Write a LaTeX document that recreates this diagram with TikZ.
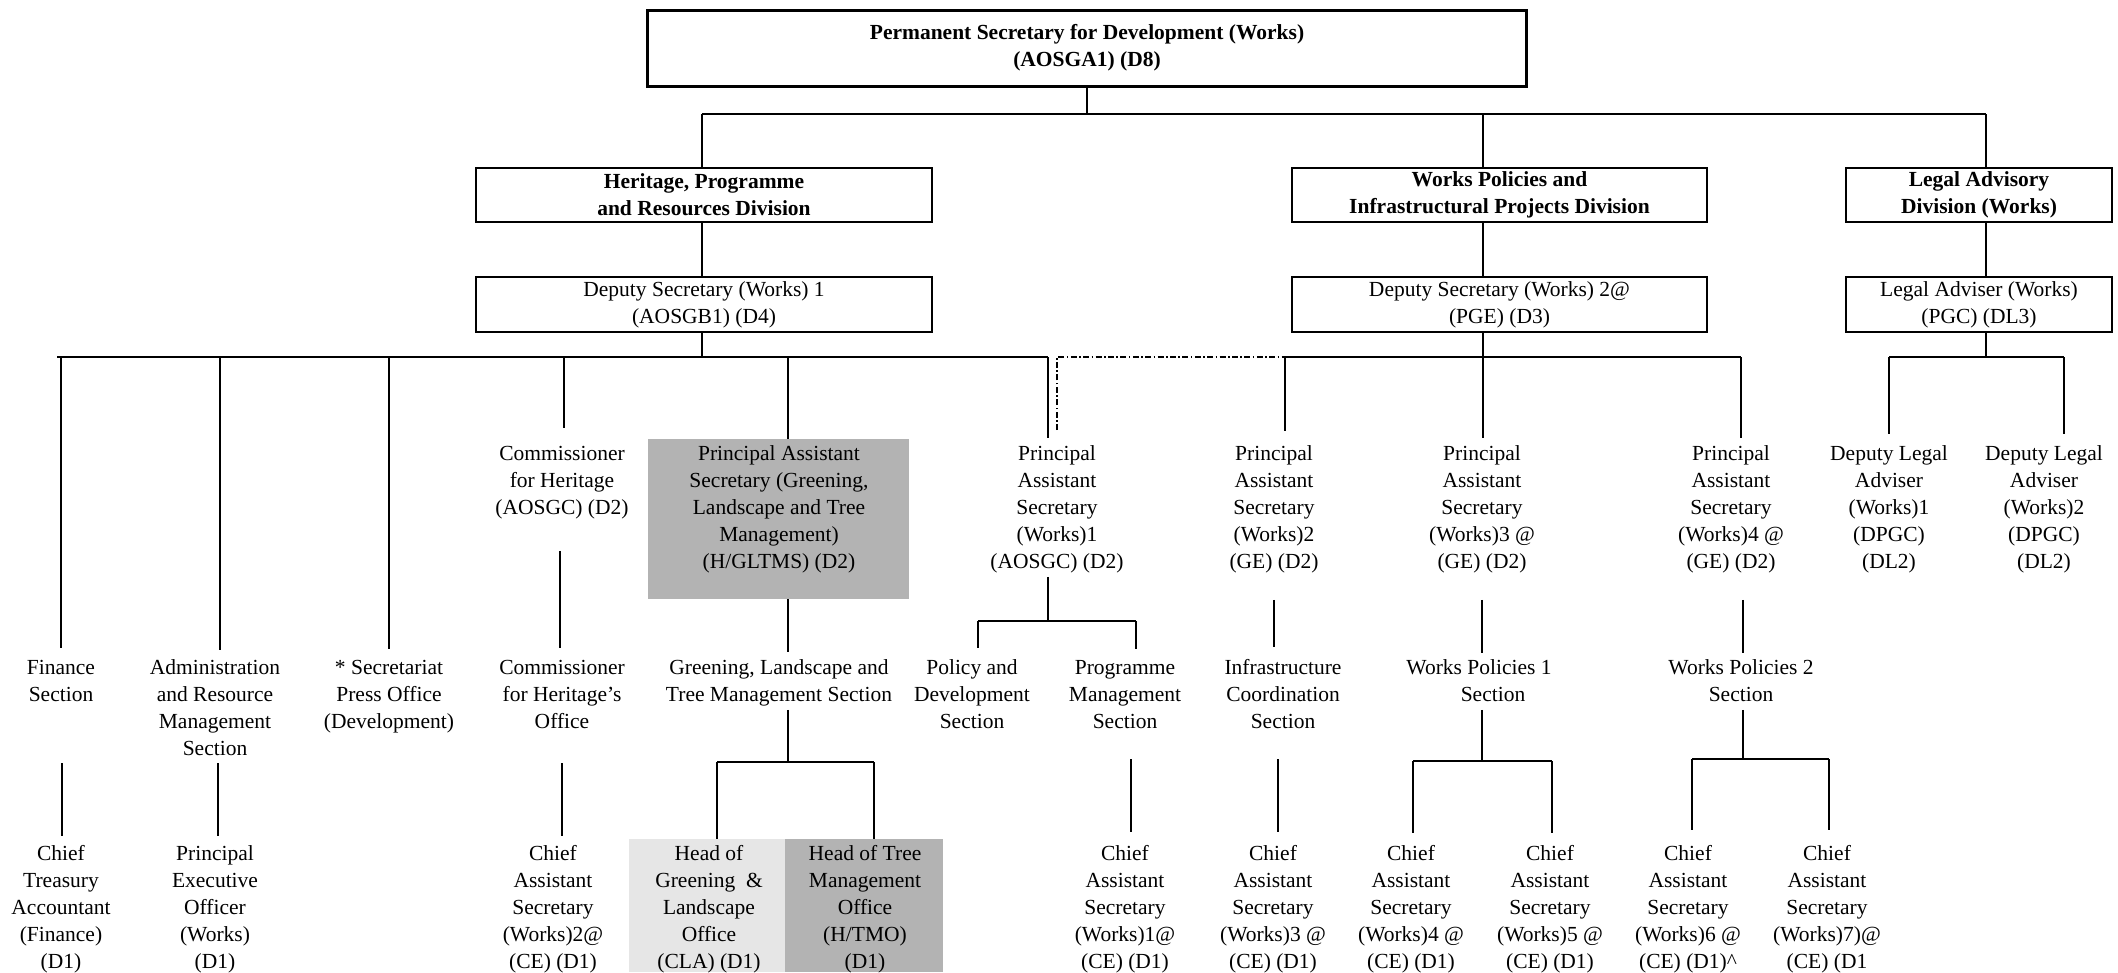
\documentclass[tikz,border=0pt]{standalone}
\usepackage{fontspec}
\setmainfont{Liberation Serif}
\usetikzlibrary{calc}
\definecolor{gDark}{HTML}{B3B3B3}
\definecolor{gLight}{HTML}{E6E6E6}
\newcommand\orgfont{\fontsize{10.75bp}{13.5bp}\selectfont}
\begin{document}
\begin{tikzpicture}[x=0.5bp,y=-0.5bp,
 txt/.style={align=center,inner sep=0pt,anchor=north,font=\orgfont},
 obox/.style={draw,line width=1.2bp,inner sep=0pt,align=center,font=\orgfont\bfseries},
 nbox/.style={draw,line width=1.2bp,inner sep=0pt,align=center,font=\orgfont},
 shade/.style={inner sep=0pt,draw=none},
 conn/.style={line width=1bp},
 bar/.style={line width=1.4bp},
 dd/.style={line width=0.7bp,dash pattern=on 3bp off 1.2bp on 0.8bp off 1.2bp},
]
\useasboundingbox (0,0) rectangle (2118,972);

% ---- boxes
\node[obox,line width=1.5bp,minimum width=439bp,minimum height=38bp] (ps) at (1087,48) {Permanent Secretary for Development (Works)\\(AOSGA1) (D8)};
\node[obox,minimum width=228bp,minimum height=27bp] (hpr) at (704,195) {Heritage, Programme\\and Resources Division};
\node[obox,minimum width=207.5bp,minimum height=27bp] (wpi) at (1499.5,195) {Works Policies and\\Infrastructural Projects Division};
\node[obox,minimum width=133bp,minimum height=27bp] (lad) at (1979,195) {Legal Advisory\\Division (Works)};
\node[nbox,minimum width=228bp,minimum height=27.5bp] (ds1) at (704,304.5) {Deputy Secretary (Works) 1\\(AOSGB1) (D4)};
\node[nbox,minimum width=207.5bp,minimum height=27.5bp] (ds2) at (1499.5,304.5) {Deputy Secretary (Works) 2@\\(PGE) (D3)};
\node[nbox,minimum width=133bp,minimum height=27.5bp] (la) at (1979,304.5) {Legal Adviser (Works)\\(PGC) (DL3)};

\node[shade,fill=gDark,minimum width=130.5bp,minimum height=80bp] (glbox) at (778.5,519) {};
\node[shade,fill=gLight,minimum width=78bp,minimum height=66.5bp] (hglbox) at (707,905.5) {};
\node[shade,fill=gDark,minimum width=79bp,minimum height=66.5bp] (htmbox) at (864,905.5) {};

% ---- top row
\node[txt] (comm) at (562,441) {\strut Commissioner\\for Heritage\\(AOSGC) (D2)\strut};
\node[txt] (gl) at (779,441) {\strut Principal Assistant\\Secretary (Greening,\\Landscape and Tree\\Management)\\(H/GLTMS) (D2)\strut};
\node[txt] (pas1) at (1057,441) {\strut Principal\\Assistant\\Secretary\\(Works)1\\(AOSGC) (D2)\strut};
\node[txt] (pas2) at (1274,441) {\strut Principal\\Assistant\\Secretary\\(Works)2\\(GE) (D2)\strut};
\node[txt] (pas3) at (1482,441) {\strut Principal\\Assistant\\Secretary\\(Works)3 @\\(GE) (D2)\strut};
\node[txt] (pas4) at (1731,441) {\strut Principal\\Assistant\\Secretary\\(Works)4 @\\(GE) (D2)\strut};
\node[txt] (dla1) at (1889,441) {\strut Deputy Legal\\Adviser\\(Works)1\\(DPGC)\\(DL2)\strut};
\node[txt] (dla2) at (2044,441) {\strut Deputy Legal\\Adviser\\(Works)2\\(DPGC)\\(DL2)\strut};

% ---- section row
\node[txt] (fin) at (61,655) {\strut Finance\\Section\strut};
\node[txt] (adm) at (215,655) {\strut Administration\\and Resource\\Management\\Section\strut};
\node[txt] (sec) at (389,655) {\strut * Secretariat\\Press Office\\(Development)\strut};
\node[txt] (commo) at (562,655) {\strut Commissioner\\for Heritage’s\\Office\strut};
\node[txt] (gls) at (779,655) {\strut Greening, Landscape and\\Tree Management Section\strut};
\node[txt] (pol) at (972,655) {\strut Policy and\\Development\\Section\strut};
\node[txt] (prog) at (1125,655) {\strut Programme\\Management\\Section\strut};
\node[txt] (infra) at (1283,655) {\strut Infrastructure\\Coordination\\Section\strut};
\node[txt] (wp1) at (1479,655) {\strut Works Policies 1\\\hspace*{14bp}Section\strut};
\node[txt] (wp2) at (1741,655) {\strut Works Policies 2\\Section\strut};

% ---- bottom row
\node[txt] (cta) at (61,841) {\strut Chief\\Treasury\\Accountant\\(Finance)\\(D1)\strut};
\node[txt] (peo) at (215,841) {\strut Principal\\Executive\\Officer\\(Works)\\(D1)\strut};
\node[txt] (cas2) at (553,841) {\strut Chief\\Assistant\\Secretary\\(Works)2@\\(CE) (D1)\strut};
\node[txt] (hgl) at (709,841) {\strut Head of\\Greening~~\&\\Landscape\\Office\\(CLA) (D1)\strut};
\node[txt] (htm) at (865,841) {\strut Head of Tree\\Management\\Office\\(H/TMO)\\(D1)\strut};
\node[txt] (cas1) at (1125,841) {\strut Chief\\Assistant\\Secretary\\(Works)1@\\(CE) (D1)\strut};
\node[txt] (cas3) at (1273,841) {\strut Chief\\Assistant\\Secretary\\(Works)3 @\\(CE) (D1)\strut};
\node[txt] (cas4) at (1411,841) {\strut Chief\\Assistant\\Secretary\\(Works)4 @\\(CE) (D1)\strut};
\node[txt] (cas5) at (1550,841) {\strut Chief\\Assistant\\Secretary\\(Works)5 @\\(CE) (D1)\strut};
\node[txt] (cas6) at (1688,841) {\strut Chief\\Assistant\\Secretary\\(Works)6 @\\(CE) (D1)\textasciicircum\strut};
\node[txt] (cas7) at (1827,841) {\strut Chief\\Assistant\\Secretary\\(Works)7)@\\(CE) (D1\strut};

% ---- helper coordinates
\coordinate (b0) at (0,114);
\coordinate (b1) at (0,357);
\coordinate (b1L) at (57,357);
\coordinate (b2) at (0,621);
\coordinate (b3) at (0,762);
\coordinate (r3) at (0,763);
\coordinate (r3a) at (0,759);
\coordinate (bw1) at (0,761);
\coordinate (bw2) at (0,759);
\coordinate (hx) at (702,0);
\coordinate (wx) at (1483,0);
\coordinate (lx) at (1986,0);

\path ([yshift=3.5bp]fin.north) coordinate (finT);
\path ([xshift=2.5bp,yshift=2.5bp]adm.north) coordinate (admT);
\path ([yshift=3bp]sec.north) coordinate (secT);
\path ([xshift=1bp,yshift=6.5bp]comm.north) coordinate (commT);
\path ([xshift=4.75bp]glbox.north) coordinate (glT);
\path ([xshift=-4.5bp,yshift=1.5bp]pas1.north) coordinate (pas1T);
\path ([yshift=5.5bp]pas1.north) coordinate (pas1D);
\path ([xshift=5.5bp,yshift=5bp]pas2.north) coordinate (pas2T);
\path ([xshift=0.5bp,yshift=1.5bp]pas3.north) coordinate (pas3T);
\path ([xshift=5bp,yshift=1.5bp]pas4.north) coordinate (pas4T);
\path ([yshift=3.5bp]dla1.north) coordinate (dla1T);
\path ([xshift=10bp,yshift=3.5bp]dla2.north) coordinate (dla2T);

\path ([xshift=-1bp,yshift=3.5bp]commo.north) coordinate (commoT);
\path ([yshift=-14bp]comm.south) coordinate (commB);
\path ([xshift=4.5bp,yshift=1.5bp]gls.north) coordinate (glsT);
\path ([xshift=3bp,yshift=3.5bp]pol.north) coordinate (polT);
\path ([xshift=5.5bp,yshift=3bp]prog.north) coordinate (progT);
\path ([xshift=-4.5bp,yshift=4bp]infra.north) coordinate (infraT);
\path ([yshift=-11.5bp]pas2.south) coordinate (pasB);
\path ([xshift=1.5bp,yshift=1bp]wp1.north) coordinate (wp1T);
\path ([xshift=1bp,yshift=1bp]wp2.north) coordinate (wp2T);

\path ([xshift=0.5bp,yshift=2.5bp]cta.north) coordinate (ctaT);
\path ([xshift=1.5bp,yshift=2.5bp]peo.north) coordinate (peoT);
\path ([xshift=4.5bp,yshift=2.5bp]cas2.north) coordinate (cas2T);
\path ([xshift=5bp]hglbox.north) coordinate (hglT);
\path ([xshift=5bp]htmbox.north) coordinate (htmT);
\path ([xshift=3bp,yshift=4.5bp]cas1.north) coordinate (cas1T);
\path ([xshift=2.5bp,yshift=4.5bp]cas3.north) coordinate (cas3T);
\path ([xshift=1bp,yshift=4bp]cas4.north) coordinate (cas4T);
\path ([xshift=1bp,yshift=4bp]cas5.north) coordinate (cas5T);
\path ([xshift=2bp,yshift=5.5bp]cas6.north) coordinate (cas6T);
\path ([xshift=1bp,yshift=5.5bp]cas7.north) coordinate (cas7T);

% ---- top connectors
\draw[conn] (ps.south) -- (ps.south |- b0);
\draw[bar] (hx |- b0) -- (lx |- b0);
\draw[conn] (hx |- b0) -- (hx |- hpr.north);
\draw[conn] (wx |- b0) -- (wx |- wpi.north);
\draw[conn] (lx |- b0) -- (lx |- lad.north);
\draw[conn] (hx |- hpr.south) -- (hx |- ds1.north);
\draw[conn] (wx |- wpi.south) -- (wx |- ds2.north);
\draw[conn] (lx |- lad.south) -- (lx |- la.north);
\draw[conn] (hx |- ds1.south) -- (hx |- b1);
\draw[conn] (wx |- ds2.south) -- (wx |- pas3T);
\draw[conn] (lx |- la.south) -- (lx |- b1);

% ---- first tier bars
\draw[bar] (b1L) -- (pas1T |- b1);
\draw[conn] (finT |- b1) -- (finT);
\draw[conn] (admT |- b1) -- (admT);
\draw[conn] (secT |- b1) -- (secT);
\draw[conn] (commT |- b1) -- (commT);
\draw[conn] (glT |- b1) -- (glT);
\draw[conn] (pas1T |- b1) -- (pas1T);
\draw[dd] (pas1D) -- (pas1D |- b1) -- (pas2T |- b1);
\draw[bar] (pas2T |- b1) -- (pas4T |- b1);
\draw[conn] (pas2T |- b1) -- (pas2T);
\draw[conn] (pas4T |- b1) -- (pas4T);
\draw[bar] (dla1T |- b1) -- (dla2T |- b1);
\draw[conn] (dla1T |- b1) -- (dla1T);
\draw[conn] (dla2T |- b1) -- (dla2T);

% ---- second tier
\draw[conn] (commB -| commoT) -- (commoT);
\draw[conn] (glbox.south -| glsT) -- (glsT);
\draw[conn] (pas1T |- pas1.south) -- (pas1T |- b2);
\draw[bar] (polT |- b2) -- (progT |- b2);
\draw[conn] (polT |- b2) -- (polT);
\draw[conn] (progT |- b2) -- (progT);
\draw[conn] (infraT |- pasB) -- (infraT);
\draw[conn] (wp1T |- pasB) -- (wp1T);
\draw[conn] (wp2T |- pasB) -- (wp2T);

% ---- third tier
\draw[conn] (ctaT |- r3) -- (ctaT);
\draw[conn] (peoT |- r3) -- (peoT);
\draw[conn] (cas2T |- r3) -- (cas2T);
\draw[conn] (glsT |- gls.south) -- (glsT |- b3);
\draw[bar] (hglT |- b3) -- (htmT |- b3);
\draw[conn] (hglT |- b3) -- (hglT);
\draw[conn] (htmT |- b3) -- (htmT);
\draw[conn] (cas1T |- r3a) -- (cas1T);
\draw[conn] (cas3T |- r3a) -- (cas3T);
\draw[conn] (wp1T |- wp1.south) -- (wp1T |- bw1);
\draw[bar] (cas4T |- bw1) -- (cas5T |- bw1);
\draw[conn] (cas4T |- bw1) -- (cas4T);
\draw[conn] (cas5T |- bw1) -- (cas5T);
\draw[conn] (wp2T |- wp2.south) -- (wp2T |- bw2);
\draw[bar] (cas6T |- bw2) -- (cas7T |- bw2);
\draw[conn] (cas6T |- bw2) -- (cas6T);
\draw[conn] (cas7T |- bw2) -- (cas7T);
\end{tikzpicture}
\end{document}
